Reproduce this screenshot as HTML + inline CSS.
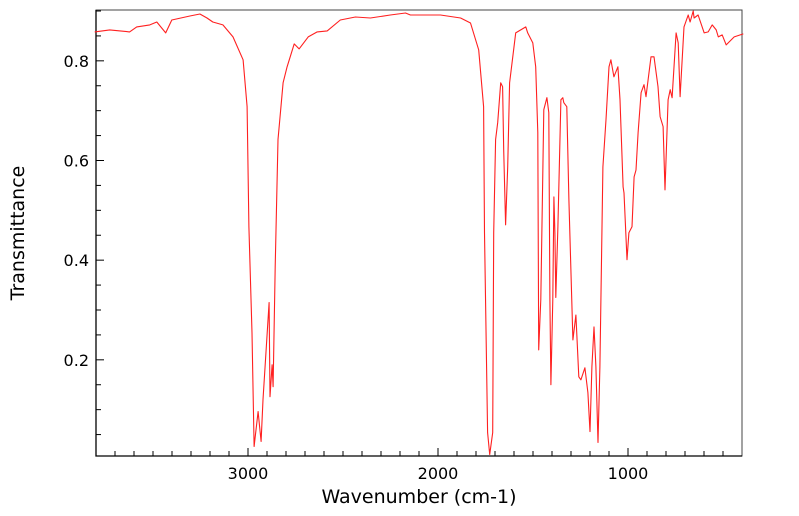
<!DOCTYPE html>
<html><head><meta charset="utf-8"><style>
html,body{margin:0;padding:0;background:#fff;}
svg{display:block;font-family:"DejaVu Sans","Liberation Sans",sans-serif;}
</style></head><body>
<svg id="chart" width="799" height="516"></svg>
<script>
const wavenumbers=[3807,3728,3623,3586,3517,3480,3433,3401,3306,3253,3216,3185,3132,3079,3026,3005,2995,2979,2968,2947,2931,2921,2889,2884,2873,2868,2857,2842,2815,2794,2757,2731,2683,2636,2583,2514,2435,2356,2251,2171,2145,1987,1881,1829,1786,1760,1755,1739,1728,1712,1707,1697,1686,1670,1660,1654,1644,1633,1623,1591,1538,1528,1501,1486,1475,1470,1459,1448,1443,1427,1417,1411,1406,1396,1390,1385,1380,1369,1353,1343,1338,1322,1311,1290,1274,1259,1248,1227,1211,1200,1190,1179,1169,1158,1148,1132,1116,1100,1090,1074,1053,1042,1026,1021,1005,995,979,968,958,947,931,916,905,894,879,863,842,831,815,805,789,778,768,747,736,726,705,683,673,657,652,631,599,578,557,536,525,504,483,441,393];
const transmittance=[0.858,0.862,0.858,0.868,0.872,0.878,0.856,0.882,0.890,0.894,0.886,0.878,0.872,0.848,0.802,0.708,0.467,0.254,0.026,0.096,0.036,0.120,0.315,0.126,0.190,0.146,0.387,0.642,0.756,0.788,0.834,0.824,0.848,0.858,0.860,0.882,0.888,0.886,0.892,0.896,0.892,0.892,0.886,0.876,0.822,0.708,0.455,0.054,0.010,0.054,0.455,0.642,0.676,0.756,0.748,0.621,0.471,0.587,0.756,0.856,0.868,0.856,0.836,0.788,0.656,0.220,0.321,0.587,0.702,0.726,0.696,0.321,0.150,0.321,0.527,0.455,0.325,0.467,0.722,0.726,0.716,0.708,0.521,0.240,0.290,0.166,0.160,0.184,0.134,0.056,0.186,0.266,0.186,0.034,0.186,0.587,0.682,0.788,0.802,0.768,0.788,0.722,0.547,0.535,0.401,0.455,0.467,0.567,0.581,0.656,0.736,0.752,0.728,0.762,0.808,0.808,0.748,0.688,0.668,0.541,0.722,0.742,0.726,0.856,0.836,0.728,0.868,0.892,0.878,0.900,0.886,0.892,0.856,0.858,0.872,0.862,0.848,0.852,0.832,0.848,0.854];
const xTickLabels=[3000,2000,1000];
const yTickLabels=[0.2,0.4,0.6,0.8];

const L=96,R=742,T=10,B=456;
const xMin=400,xMax=3800,yMin=0.007,yMax=0.902;
const sx=v=>L+(xMax-v)/(xMax-xMin)*(R-L);
const sy=v=>B-(v-yMin)/(yMax-yMin)*(B-T);
const svg=document.getElementById('chart');
const NS='http://www.w3.org/2000/svg';
function mk(tag,attrs){const e=document.createElementNS(NS,tag);for(const k in attrs)e.setAttribute(k,attrs[k]);svg.appendChild(e);return e;}

const frame=mk('rect',{x:L,y:T,width:R-L,height:B-T,fill:'none',stroke:'#444','stroke-width':1});


const ax=mk('path',{d:`M${L},${T}V${B}H${R}`,fill:'none',stroke:'#000','stroke-width':1.3});



for(let v=500;v<=3800;v+=100){
  const major=v%1000===0;
  const t=mk('line',{x1:sx(v),x2:sx(v),y1:B,y2:B-(major?8:5),stroke:'#000','stroke-width':1});
  
  
}
for(let i=1;i<=18;i++){
  const v=i*0.05;
  const major=i%4===0;
  const t=mk('line',{x1:L,x2:L+(major?8:5),y1:sy(v),y2:sy(v),stroke:'#000','stroke-width':1});
  
  
}
xTickLabels.forEach(v=>{
  const t=mk('text',{x:sx(v),y:479,'text-anchor':'middle','font-size':16,fill:'#000'});
  t.textContent=v;
  
  
});
yTickLabels.forEach(v=>{
  const t=mk('text',{x:89,y:sy(v)+6,'text-anchor':'end','font-size':16,fill:'#000'});
  t.textContent=v.toFixed(1);
  
  
});
const xt=mk('text',{x:419,y:503,'text-anchor':'middle','font-size':19,fill:'#000'});
xt.textContent='Wavenumber (cm-1)';


const yt=mk('text',{x:0,y:0,'text-anchor':'middle','font-size':19,fill:'#000',transform:'translate(24,233) rotate(-90)'});
yt.textContent='Transmittance';



const pts=wavenumbers.map((w,i)=>sx(w).toFixed(1)+','+sy(transmittance[i]).toFixed(1)).join(' ');
const line=mk('polyline',{points:pts,fill:'none',stroke:'#ff2020','stroke-width':1.1,'stroke-linejoin':'round'});


</script>
</body></html>
